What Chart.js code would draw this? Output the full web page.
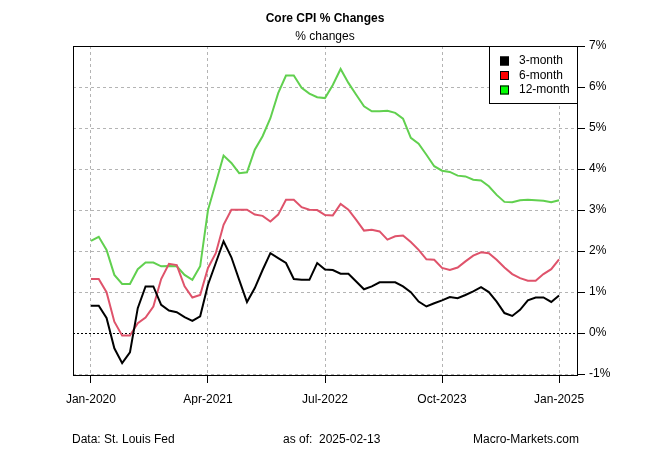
<!DOCTYPE html>
<html>
<head>
<meta charset="utf-8">
<script src="https://cdn.jsdelivr.net/npm/chart.js@4"></script>
<style>
  body { margin: 0; background: #fff; }
  #wrap { width: 650px; height: 450px; }
</style>
</head>
<body>
<div id="wrap"><canvas id="cpiChart" width="650" height="450"></canvas></div>
<script>
// Datos (ene-2020 a ene-2025, mensual)
const meses = [];
for (let a = 2020; a <= 2025; a++) {
    ['Jan','Feb','Mar','Apr','May','Jun','Jul','Aug','Sep','Oct','Nov','Dec'].forEach(m => {
        if (a < 2025 || m === 'Jan') meses.push(m + '-' + a);
    });
}

const tres = [0.67,0.67,0.37,-0.37,-0.73,-0.47,0.61,1.14,1.14,0.69,0.55,0.51,0.39,0.30,0.41,
              1.18,1.71,2.24,1.85,1.30,0.76,1.10,1.54,1.95,1.83,1.71,1.32,1.30,1.30,1.71,
              1.55,1.54,1.45,1.45,1.26,1.07,1.14,1.24,1.24,1.24,1.14,1.00,0.77,0.65,0.73,
              0.80,0.88,0.85,0.93,1.02,1.12,1.00,0.77,0.49,0.42,0.57,0.80,0.87,0.87,0.76,0.92];

const seis = [1.32,1.32,1.00,0.28,-0.06,-0.06,0.24,0.38,0.65,1.32,1.69,1.66,1.14,0.87,0.93,
              1.59,1.95,2.64,3.01,3.01,3.01,2.89,2.86,2.72,2.89,3.25,3.25,3.07,3.01,3.00,
              2.88,2.87,3.15,3.01,2.76,2.50,2.52,2.48,2.28,2.36,2.38,2.22,2.03,1.80,1.79,
              1.59,1.54,1.60,1.75,1.89,1.97,1.95,1.79,1.60,1.44,1.34,1.28,1.28,1.44,1.56,1.80];

const doce = [2.25,2.35,2.03,1.42,1.20,1.20,1.56,1.72,1.72,1.63,1.64,1.63,1.42,1.30,1.63,
              3.00,3.66,4.33,4.15,3.90,3.92,4.47,4.80,5.24,5.85,6.28,6.28,5.98,5.84,5.75,
              5.73,6.05,6.44,6.10,5.81,5.53,5.41,5.41,5.42,5.37,5.23,4.76,4.62,4.35,4.07,
              3.96,3.93,3.84,3.82,3.74,3.72,3.58,3.37,3.20,3.19,3.24,3.25,3.24,3.23,3.19,3.24];

const etiquetasX = [0, 15, 30, 45, 60];   // Jan-2020, Apr-2021, Jul-2022, Oct-2023, Jan-2025
const ticksY = [-1, 0, 1, 2, 3, 4, 5, 6, 7];

const series = [
    { nombre: '3-month', datos: tres, color: '#000000', caja: '#000000' },
    { nombre: '6-month', datos: seis, color: '#DF536B', caja: '#FF0000' },
    { nombre: '12-month', datos: doce, color: '#61D04F', caja: '#00FF00' }
];

const FUENTE = '"Liberation Sans", Arial, sans-serif';

// Marco, titulos, leyenda y pie de pagina
const extras = {
    id: 'extras',
    afterDraw(chart) {
        const ctx = chart.ctx;
        const ca = chart.chartArea;
        ctx.save();
        ctx.strokeStyle = '#000';
        ctx.lineWidth = 1;
        ctx.strokeRect(ca.left + 0.5, ca.top + 0.5, ca.right - ca.left, ca.bottom - ca.top);

        const cx = (ca.left + ca.right) / 2;
        ctx.fillStyle = '#000';
        ctx.textAlign = 'center';
        ctx.textBaseline = 'middle';
        ctx.font = 'bold 12px ' + FUENTE;
        ctx.fillText('Core CPI % Changes', cx, 19);
        ctx.font = '12px ' + FUENTE;
        ctx.fillText('% changes', cx, 37);

        // leyenda
        const lx = 489, ly = ca.top + 0.5, lw = ca.right - lx, lh = 57;
        ctx.fillStyle = '#fff';
        ctx.fillRect(lx, ly, lw, lh);
        ctx.strokeRect(lx + 0.5, ly, lw, lh);
        series.forEach((s, i) => {
            const y = 61 + i * 14.5;
            ctx.fillStyle = s.caja;
            ctx.fillRect(500, y - 4.5, 9, 9);
            ctx.strokeStyle = '#000';
            ctx.strokeRect(500.5, y - 4, 8, 8);
            ctx.fillStyle = '#000';
            ctx.textAlign = 'left';
            ctx.fillText(s.nombre, 519, y);
        });

        // pie
        ctx.textAlign = 'left';
        ctx.fillText('Data: St. Louis Fed', 72, 440);
        ctx.fillText('as of:  2025-02-13', 283, 440);
        ctx.textAlign = 'right';
        ctx.fillText('Macro-Markets.com', 579, 440);
        ctx.restore();
    }
};

const ctx = document.getElementById('cpiChart').getContext('2d');
new Chart(ctx, {
    type: 'line',
    data: {
        datasets: series.map(s => ({
            label: s.nombre,
            data: s.datos.map((v, i) => ({ x: i, y: v })),
            borderColor: s.color,
            borderWidth: 2,
            pointRadius: 0,
            tension: 0,
            fill: false
        }))
    },
    options: {
        responsive: false,
        animation: false,
        devicePixelRatio: 1,
        layout: { padding: { left: 73, right: 23, top: 46, bottom: 45 } },
        plugins: {
            legend: { display: false },
            title: { display: false },
            tooltip: { enabled: false }
        },
        scales: {
            x: {
                type: 'linear',
                min: -2.3,
                max: 62.3,
                afterBuildTicks: axis => { axis.ticks = etiquetasX.map(v => ({ value: v })); },
                afterFit: axis => { axis.height = 30; },
                ticks: {
                    autoSkip: false,
                    maxRotation: 0,
                    color: '#000',
                    padding: 9,
                    font: { family: FUENTE, size: 12 },
                    callback: v => meses[v]
                },
                grid: {
                    color: '#b4b4b4',
                    tickColor: '#000',
                    tickLength: 8,
                    tickBorderDash: [],
                    drawTicks: true
                },
                border: { display: false, dash: [3, 3] }
            },
            y: {
                position: 'right',
                min: -1.02,
                max: 7.0,
                afterBuildTicks: axis => { axis.ticks = ticksY.map(v => ({ value: v })); },
                afterFit: axis => { axis.width = 50; },
                ticks: {
                    color: '#000',
                    padding: 4,
                    font: { family: FUENTE, size: 12 },
                    callback: v => v + '%'
                },
                grid: {
                    color: c => (c.tick && c.tick.value === 0) ? '#000' : '#b4b4b4',
                    tickColor: '#000',
                    tickLength: 8,
                    tickBorderDash: []
                },
                border: {
                    display: false,
                    dash: c => (c.tick && c.tick.value === 0) ? [2, 2] : [3, 3]
                }
            }
        }
    },
    plugins: [extras]
});
</script>
</body>
</html>
